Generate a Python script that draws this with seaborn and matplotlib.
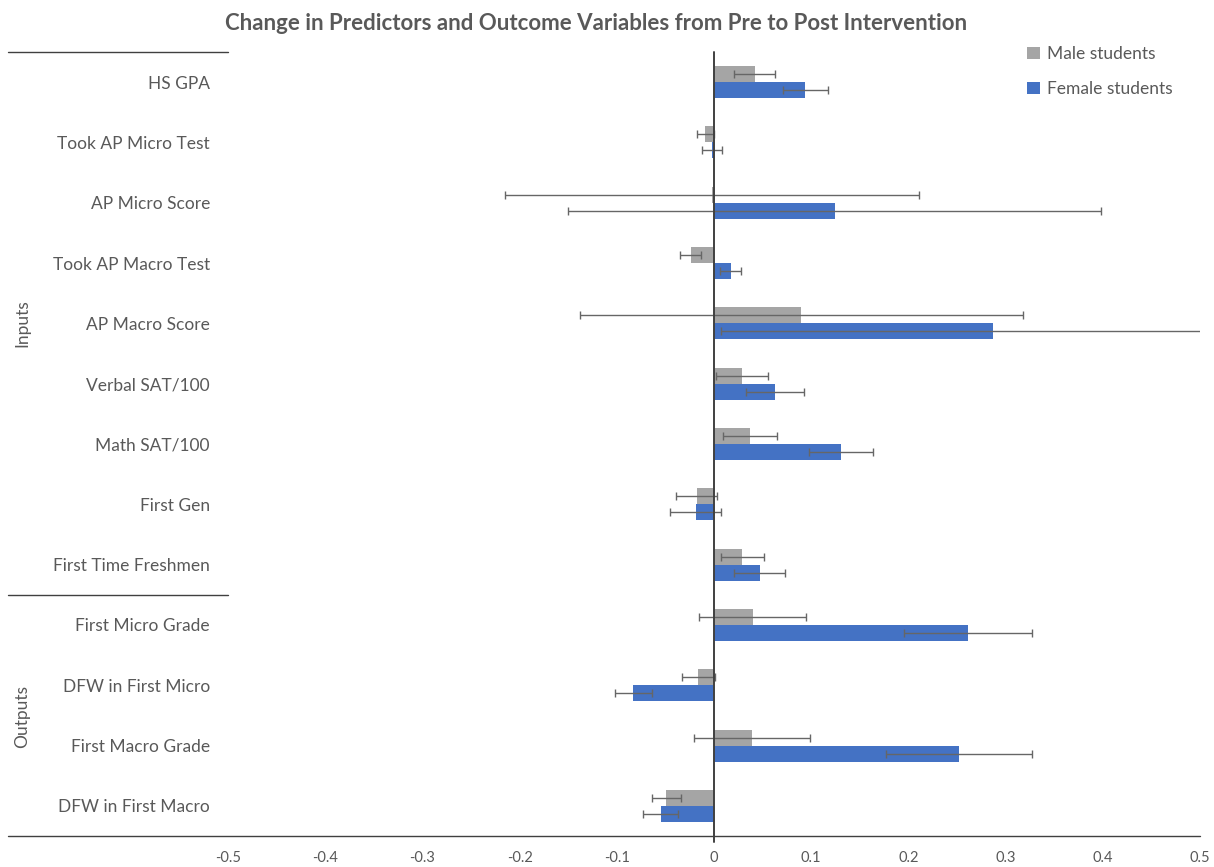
import pandas as pd
import numpy as np
import matplotlib
matplotlib.use('Agg')
import matplotlib.pyplot as plt
import seaborn as sns
from matplotlib.patches import Patch

# values
categories = ['HS GPA', 'Took AP Micro Test', 'AP Micro Score', 'Took AP Macro Test',
              'AP Macro Score', 'Verbal SAT/100', 'Math SAT/100', 'First Gen',
              'First Time Freshmen', 'First Micro Grade', 'DFW in First Micro',
              'First Macro Grade', 'DFW in First Macro']
male = [0.042, -0.009, -0.002, -0.024, 0.090, 0.029, 0.037, -0.018, 0.029,
        0.040, -0.016, 0.039, -0.049]
male_err = [0.021, 0.009, 0.213, 0.011, 0.228, 0.027, 0.028, 0.021, 0.022,
            0.055, 0.017, 0.060, 0.015]
female = [0.094, -0.002, 0.124, 0.017, 0.287, 0.063, 0.131, -0.019, 0.047,
          0.261, -0.083, 0.252, -0.055]
female_err = [0.023, 0.010, 0.274, 0.011, 0.280, 0.030, 0.033, 0.026, 0.026,
              0.066, 0.019, 0.075, 0.018]
groups = ['Male students', 'Female students']
n_inputs = 9

grey_txt = '#595959'
colors = ['#A5A5A5', '#4472C4']

df = pd.DataFrame({
    'Variable': categories * 2,
    'Change': male + female,
    'Group': [groups[0]] * len(categories) + [groups[1]] * len(categories),
})

sns.set_style('white')
plt.rcParams['font.family'] = ['Lato', 'DejaVu Sans']

fig = plt.figure(figsize=(12.14, 8.67), dpi=100)
ax = fig.add_axes([228 / 1214, 1 - 836 / 867, 972 / 1214, 784 / 867])

sns.barplot(data=df, x='Change', y='Variable', hue='Group', order=categories,
            hue_order=groups, palette=colors, orient='h', width=0.53,
            errorbar=None, linewidth=0, saturation=1, ax=ax, legend=True)

# error bars centred on each bar end
for cont, vals, errs in zip(ax.containers, [male, female], [male_err, female_err]):
    yc = [p.get_y() + p.get_height() / 2 for p in cont.patches]
    ax.errorbar(vals, yc, xerr=errs, fmt='none', ecolor='#666666', elinewidth=1.0,
                capsize=3, capthick=1.0, zorder=5)

ax.set_xlim(-0.5, 0.5)
ax.set_ylim(len(categories) - 0.5, -0.5)
ax.set_xticks(np.arange(-0.5, 0.51, 0.1))
ax.set_xticklabels(['0' if abs(t) < 1e-9 else f'{t:.1f}' for t in np.arange(-0.5, 0.51, 0.1)],
                   color=grey_txt, fontsize=10.5)
ax.tick_params(axis='x', length=0, pad=11)
ax.tick_params(axis='y', length=0, pad=13, labelsize=12.5, labelcolor=grey_txt)
ax.set_xlabel('')
ax.set_ylabel('')
for s in ax.spines.values():
    s.set_visible(False)

# zero line
ax.plot([0, 0], [-0.5, len(categories) - 0.5 + 0.1], color='#404040', lw=1.4,
        clip_on=False, zorder=6)

# separator lines on the left and the bottom axis line
tr = ax.get_yaxis_transform()
x0 = (8 - 228) / 972
ax.plot([x0, 0], [-0.5, -0.5], transform=tr, color='#404040', lw=1.0, clip_on=False)
ax.plot([x0, 0], [n_inputs - 0.5, n_inputs - 0.5], transform=tr, color='#404040', lw=1.0, clip_on=False)
ax.plot([x0, 1], [len(categories) - 0.5] * 2, transform=tr, color='#404040', lw=1.0, clip_on=False)

# group labels
ax.text(22 / 1214, 1 - 323 / 867, 'Inputs', transform=fig.transFigure, rotation=90,
        ha='center', va='center', fontsize=12.5, color=grey_txt)
ax.text(22 / 1214, 1 - 716 / 867, 'Outputs', transform=fig.transFigure, rotation=90,
        ha='center', va='center', fontsize=12.5, color=grey_txt)

fig.suptitle('Change in Predictors and Outcome Variables from Pre to Post Intervention',
             x=596 / 1214, y=1 - 23 / 867, va='center', fontsize=16, fontweight='bold',
             color=grey_txt)

handles = [Patch(facecolor=c, edgecolor='none') for c in colors]
ax.legend(handles, groups, loc='upper left', bbox_to_anchor=(1020 / 1214, 1 - 39 / 867),
          bbox_transform=fig.transFigure, frameon=False, fontsize=12.5,
          labelcolor=grey_txt, handlelength=0.75, handleheight=0.75,
          handletextpad=0.4, labelspacing=1.1, borderaxespad=0)

fig.savefig('out.png', dpi=100)
